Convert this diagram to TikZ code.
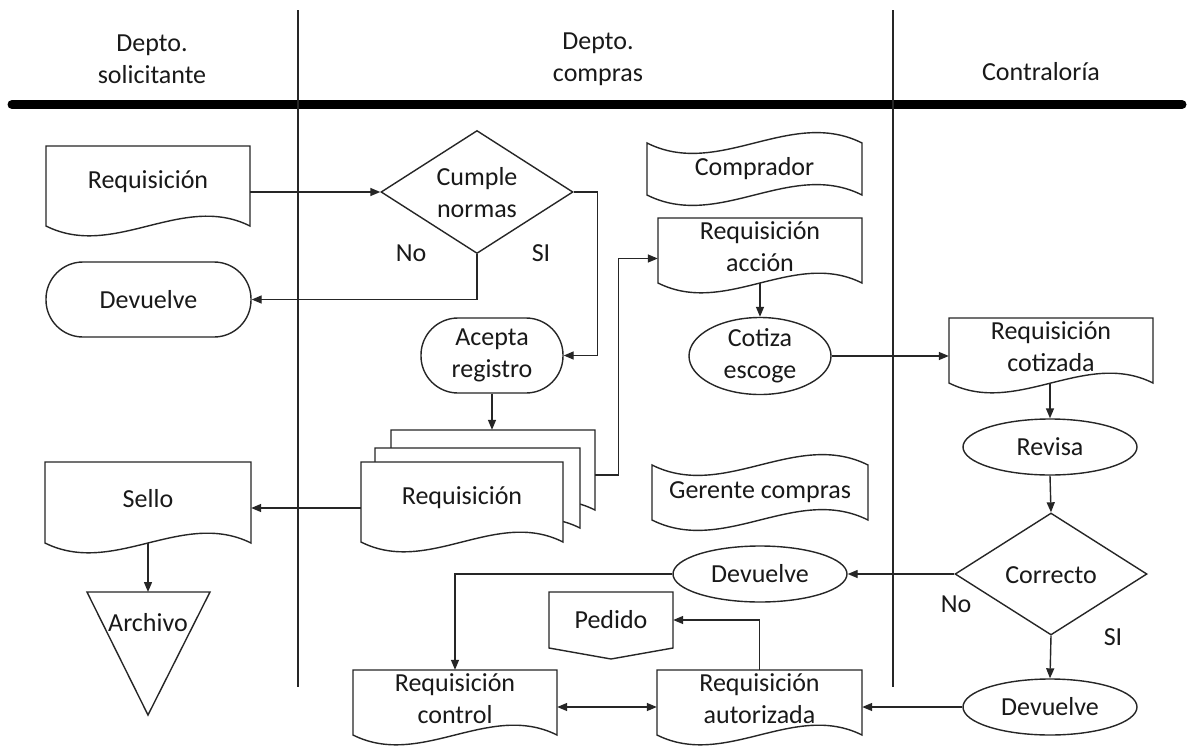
\documentclass[tikz,border=0pt]{standalone}
\usepackage{fontspec}
\setmainfont{Carlito}
\usetikzlibrary{shapes.geometric,arrows.meta,calc}
\tikzset{
  shp/.style={draw=black!85, line width=1.4pt, fill=white},
  txt/.style={inner sep=0pt, align=center, text=black!90, font=\fontsize{26}{32}\selectfont},
  arr/.style={draw=black!85, line width=1.4pt, -{Triangle[length=10pt,width=8pt]}},
  darr/.style={draw=black!85, line width=1.4pt, {Triangle[length=10pt,width=8pt]}-{Triangle[length=10pt,width=8pt]}},
  lane/.style={draw=black!85, line width=1.4pt},
  ell/.style={shp, ellipse, inner sep=0pt, align=center, text=black!90, font=\fontsize{26}{32}\selectfont},
  stad/.style={shp, rectangle, rounded corners=37pt, inner sep=0pt, align=center, text=black!90, font=\fontsize{26}{32}\selectfont},
  dia/.style={shp, diamond, inner sep=0pt},
  lbl/.style={inner sep=0pt, text=black!90, font=\fontsize{26}{32}\selectfont},
}
% document shape: name, x1, y1, x2, y2 (end of sides), text
\newcommand\docshape[6]{%
  \draw[shp] (#2,#5) -- (#2,#3) -- (#4,#3) -- (#4,#5) .. controls ({#4-(#4-#2)/3},{#5-34}) and ({#2+(#4-#2)/3},{#5+34}) .. (#2,#5) -- cycle;
  \node[inner sep=0pt, minimum width={#4-#2}, minimum height={#5-#3}] (#1) at ({(#2+#4)/2},{(#3+#5)/2}) {};
  \node[txt] (#1t) at ({(#2+#4)/2},{(#3+#5)/2-4}) {#6};
}
% tape shape: name, x1, y1, x2, y2, text
\newcommand\tapeshape[6]{%
  \draw[shp] (#2,#3) .. controls ({#2+(#4-#2)/3},{#3+36}) and ({#2+2*(#4-#2)/3},{#3-36}) .. (#4,#3) -- (#4,#5) .. controls ({#2+2*(#4-#2)/3},{#5-36}) and ({#2+(#4-#2)/3},{#5+36}) .. (#2,#5) -- cycle;
  \node[txt, minimum width={#4-#2}, minimum height={#5-#3}] (#1) at ({(#2+#4)/2},{(#3+#5)/2}) {#6};
}
\begin{document}
\begin{tikzpicture}[x=1pt,y=-1pt]
\useasboundingbox (0,0) rectangle (1187,745);
\fill[white] (0,0) rectangle (1187,745);

% headers
\node[txt] (h1) at (152,59) {Depto.\\solicitante};
\node[txt] (h2) at (598,59) {Depto.\\compras};
\node[txt] (h3) at (1041,72) {Contraloría};
\draw[black, line width=9pt, line cap=round] (12,104.5) -- (1182,104.5);
\draw[lane] (298,10) -- (298,687);
\draw[lane] (893,10) -- (893,687);

% lane 1
\docshape{req1}{46}{146}{250}{226}{Requisición}
\node[stad, minimum width=205pt, minimum height=75pt] (dev1) at (148.5,299.5) {Devuelve};
\docshape{sello}{45}{462}{251}{543}{Sello}
\draw[shp] (87,592) -- (210,592) -- (148,715) -- cycle;
\coordinate (archTop) at (148,592);
\node[txt] (archivo) at (148,623) {Archivo};

% lane 2
\node[dia, minimum width=192pt, minimum height=123pt] (cumple) at (477,192) {};
\node[txt] (cumpleT) at (477,193) {Cumple\\normas};
\node[lbl] (no1) at (411,253) {No};
\node[lbl] (si1) at (541,253) {SI};
\node[stad, minimum width=142pt, minimum height=75pt] (acepta) at (492,355.5) {Acepta\\registro};
\docshape{reqSb}{391}{430}{595}{510}{}
\docshape{reqSm}{375}{448}{580}{528}{}
\docshape{reqS}{361}{462}{563}{542}{Requisición}
\tapeshape{comprador}{647}{143}{862}{195}{Comprador}
\docshape{reqA}{658}{218}{862}{283}{Requisición\\acción}
\node[ell, minimum width=142pt, minimum height=76pt] (cotiza) at (760,356) {Cotiza\\escoge};
\tapeshape{gerente}{652}{465}{868}{520}{Gerente compras}
\node[ell, minimum width=174pt, minimum height=56pt] (devM) at (760,574) {Devuelve};
\draw[shp] (549,592) -- (673,592) -- (673,648) -- (611,659) -- (549,648) -- cycle;
\node[txt, minimum width=124pt, minimum height=56pt] (pedido) at (611,620) {Pedido};
\docshape{reqCtl}{353}{670}{557}{735}{Requisición\\control}
\docshape{reqAut}{657}{670}{862}{735}{Requisición\\autorizada}

% lane 3
\docshape{reqC}{949}{318}{1153}{383}{Requisición\\cotizada}
\node[ell, minimum width=174pt, minimum height=56pt] (revisa) at (1050,447) {Revisa};
\node[dia, minimum width=192pt, minimum height=122pt] (correcto) at (1051,574) {};
\node[txt] (correctoT) at (1051,575) {Correcto};
\node[lbl] (no2) at (956,604) {No};
\node[lbl] (si2) at (1113,637) {SI};
\node[ell, minimum width=174pt, minimum height=56pt] (devB) at (1050,707) {Devuelve};

% connectors
\draw[arr] (req1.east |- cumple.west) -- (cumple.west);
\draw[arr] (cumple.south) |- (dev1.east);
\draw[arr] (cumple.east) -| ($(acepta.east)+(34,0)$) -- (acepta.east);
\draw[arr] (acepta.south) -- (acepta.south |- reqSb.north);
\draw[arr] ($(reqS.west)+(0,6)$) -- ($(sello.east)+(0,5.5)$);
\draw[arr] ($(reqSb.east)+(0,5)$) -- ++(23,0) |- ($(reqA.west)+(0,8)$);
\draw[arr] (reqA.south) -- (cotiza.north);
\draw[arr] (cotiza.east) -- (cotiza.east -| reqC.west);
\draw[arr] (revisa.north |- reqC.south) -- (revisa.north);
\draw[arr] (revisa.south) -- (correcto.north);
\draw[arr] (correcto.west) -- (devM.east);
\draw[arr] (correcto.south) -- (devB.north);
\draw[arr] (devB.west) -- (devB.west -| reqAut.east);
\draw[arr] (reqAut.north) |- (pedido.east);
\draw[arr] (devM.west) -| (reqCtl.north);
\draw[darr] ($(reqCtl.east)+(0,4.5)$) -- ($(reqAut.west)+(0,4.5)$);
\draw[arr] (sello.south) -- (archTop);
\end{tikzpicture}
\end{document}
